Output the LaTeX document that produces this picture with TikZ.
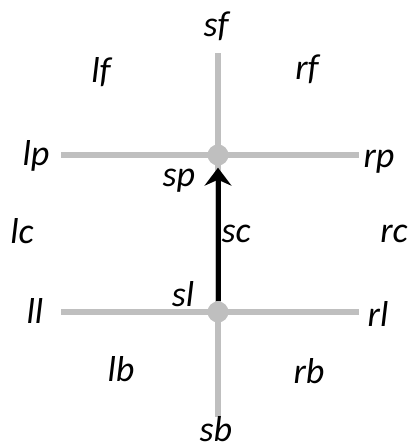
\documentclass[tikz,border=0pt]{standalone}
\usepackage{fontspec}
\setmainfont{Carlito}
\usetikzlibrary{arrows.meta}
\begin{document}
\begin{tikzpicture}[x=1pt,y=-1pt,
  lbl/.style={font=\fontsize{36}{38}\selectfont\itshape, inner sep=0pt, anchor=center},
  rail/.style={draw=black!25, line width=6pt},
  joint/.style={circle, fill=black!25, minimum size=21pt, inner sep=0pt}]
\useasboundingbox (0,0) rectangle (409,445);
\coordinate (vt) at (218,53);
\coordinate (vb) at (218,417);
\coordinate (ul) at (61,155);
\coordinate (ur) at (359,155);
\coordinate (dl) at (61,312);
\coordinate (dr) at (359,312);
\draw[rail] (vt) -- (vb);
\draw[rail] (ul) -- (ur);
\draw[rail] (dl) -- (dr);
\node[joint] (top) at (218,155) {};
\node[joint] (bot) at (218,312) {};
\draw[line width=5pt, -{Stealth[length=18pt,width=27pt,inset=6pt]}, shorten >=2pt] (bot.north) -- (top.south);
\node[lbl] (sf) at (216,26) {sf};
\node[lbl] (lf) at (101,72) {lf};
\node[lbl] (rf) at (307,69) {rf};
\node[lbl] (lp) at (36,156) {lp};
\node[lbl] (rp) at (379,162) {rp};
\node[lbl] (sp) at (179,181) {sp};
\node[lbl] (lc) at (22,231) {lc};
\node[lbl] (sc) at (236,234) {sc};
\node[lbl] (rc) at (394,234) {rc};
\node[lbl] (ll) at (35,311) {ll};
\node[lbl] (sl) at (183,294) {sl};
\node[lbl] (rl) at (378,314) {rl};
\node[lbl] (lb) at (121,369) {lb};
\node[lbl] (rb) at (309,371) {rb};
\node[lbl] (sb) at (216,429) {sb};
\end{tikzpicture}
\end{document}
